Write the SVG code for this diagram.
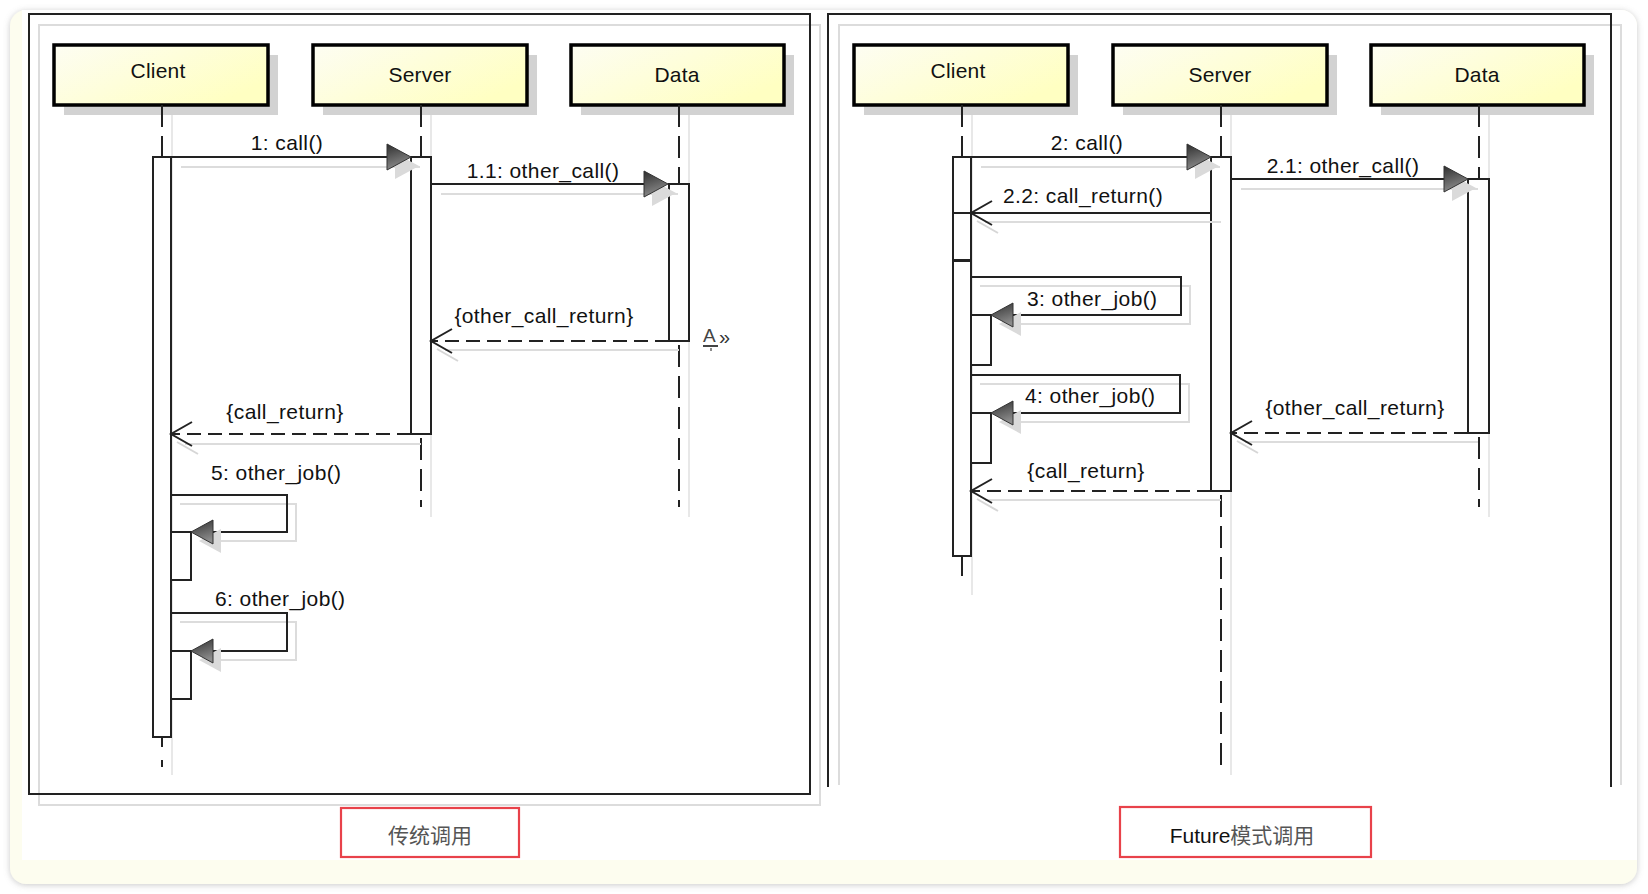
<svg xmlns="http://www.w3.org/2000/svg" xmlns:xlink="http://www.w3.org/1999/xlink" width="1648" height="894" viewBox="0 0 1648 894">
<style>
.hdr{fill:url(#hg);stroke:#000;stroke-width:3.5}
.hsh{fill:#d2d2d2}
.ll{stroke:#222;stroke-width:2;stroke-dasharray:22 9;fill:none}
.lls{stroke:#e0e0e0;stroke-width:1.5;fill:none}
.act{fill:#fff;stroke:#222;stroke-width:2}
.msg{stroke:#222;stroke-width:2;fill:none}
.ret{stroke:#222;stroke-width:2;stroke-dasharray:14 7;fill:none}
.sh{stroke:#dcdcdc;stroke-width:2;fill:none}
.ah{fill:url(#ag);stroke:#333;stroke-width:1}
.ash{fill:#dadada}
.oa{stroke:#222;stroke-width:2;fill:none}
.osh{stroke:#d6d6d6;stroke-width:2;fill:none}
.frm{stroke:#222;stroke-width:2;fill:none}
.frs{stroke:#dcdcdc;stroke-width:2;fill:none}
text{font-family:"Liberation Sans",Arial,sans-serif;font-size:21px;letter-spacing:0.4px;fill:#111}
.hl{text-anchor:middle;font-size:21px;letter-spacing:0.2px}
.ml{text-anchor:middle}
.cap{fill:#fff;stroke:#e8424a;stroke-width:2.2}
.ct{font-family:"Liberation Sans","Noto Sans CJK SC",sans-serif;font-size:21px;letter-spacing:0;fill:#555;text-anchor:middle}
</style>
<defs>
<linearGradient id="hg" x1="0" y1="0" x2="1" y2="0.6">
<stop offset="0" stop-color="#fdfdf3"/>
<stop offset="1" stop-color="#ffffc2"/>
</linearGradient>
<linearGradient id="ag" x1="0" y1="0" x2="0.3" y2="1">
<stop offset="0" stop-color="#2e2e2e"/>
<stop offset="1" stop-color="#8c8c8c"/>
</linearGradient>
<filter id="ps" x="-2%" y="-2%" width="104%" height="104%">
<feDropShadow dx="0" dy="1" stdDeviation="3" flood-color="#888" flood-opacity="0.45"/>
</filter>
<g id="far"><polygon class="ash" points="-16,-4 8,9 -16,22"/><polygon class="ah" points="-24,-13 0,0 -24,13"/></g>
<g id="fal"><polygon class="ash" points="8,9 30,-3 30,21"/><polygon class="ah" points="0,0 22,-12 22,12"/></g>
<g id="oal"><polyline class="osh" points="27,20 6,8"/><polyline class="oa" points="21,-12 0,0 21,12"/></g>
</defs>

<rect width="1648" height="894" fill="#fff"/>
<rect x="10" y="10" width="1627" height="874" rx="16" fill="#fdfdef" filter="url(#ps)"/>
<path d="M22,10 H1621 A16,16 0 0 1 1637,26 V860 H22 Z" fill="#fff"/>

<g id="frame-left">
<rect class="frs" x="39" y="25" width="781" height="780"/>
<rect class="frm" x="29" y="14" width="781" height="780"/>
</g>
<g id="frame-right">
<polyline class="frs" points="839,785 839,25 1621,25 1621,785"/>
<polyline class="frm" points="828,787 828,14 1611,14 1611,787"/>
</g>

<!-- Left diagram lifelines -->
<g id="L-client">
<rect class="hsh" x="64" y="55" width="214" height="60"/>
<rect class="hdr" x="54" y="45" width="214" height="60"/>
<text class="hl" x="158" y="78">Client</text>
<line class="lls" x1="172" y1="115" x2="172" y2="775"/>
<line class="ll" x1="162" y1="105" x2="162" y2="157"/>
<line class="ll" x1="162" y1="737" x2="162" y2="767" style="stroke-dasharray:10 13"/>
<rect class="act" x="153" y="157" width="18" height="580"/>
<rect class="act" x="171" y="532" width="20" height="48"/>
<rect class="act" x="171" y="651" width="20" height="48"/>
</g>
<g id="L-server">
<rect class="hsh" x="323" y="55" width="214" height="60"/>
<rect class="hdr" x="313" y="45" width="214" height="60"/>
<text class="hl" x="420" y="82">Server</text>
<line class="lls" x1="431" y1="115" x2="431" y2="517"/>
<line class="ll" x1="421" y1="105" x2="421" y2="157"/>
<line class="ll" x1="421" y1="438" x2="421" y2="507"/>
<rect class="act" x="411" y="157" width="20" height="277"/>
</g>
<g id="L-data">
<rect class="hsh" x="581" y="55" width="213" height="60"/>
<rect class="hdr" x="571" y="45" width="213" height="60"/>
<text class="hl" x="677" y="82">Data</text>
<line class="lls" x1="689" y1="115" x2="689" y2="517"/>
<line class="ll" x1="679" y1="105" x2="679" y2="184"/>
<line class="ll" x1="679" y1="345" x2="679" y2="507"/>
<rect class="act" x="669" y="184" width="20" height="157"/>
</g>

<!-- Right diagram lifelines -->
<g id="R-client">
<rect class="hsh" x="864" y="55" width="214" height="60"/>
<rect class="hdr" x="854" y="45" width="214" height="60"/>
<text class="hl" x="958" y="78">Client</text>
<line class="lls" x1="972" y1="115" x2="972" y2="595"/>
<line class="ll" x1="962" y1="105" x2="962" y2="157"/>
<line class="msg" x1="962" y1="556" x2="962" y2="576"/>
<rect class="act" x="953" y="157" width="18" height="103"/>
<rect class="act" x="953" y="261" width="18" height="295"/>
<line class="msg" x1="953" y1="213" x2="971" y2="213"/>
<rect class="act" x="971" y="315" width="20" height="50"/>
<rect class="act" x="971" y="413" width="20" height="50"/>
</g>
<g id="R-server">
<rect class="hsh" x="1123" y="55" width="214" height="60"/>
<rect class="hdr" x="1113" y="45" width="214" height="60"/>
<text class="hl" x="1220" y="82">Server</text>
<line class="lls" x1="1231" y1="115" x2="1231" y2="775"/>
<line class="ll" x1="1221" y1="105" x2="1221" y2="157"/>
<line class="ll" x1="1221" y1="495" x2="1221" y2="767"/>
<rect class="act" x="1211" y="157" width="20" height="334"/>
</g>
<g id="R-data">
<rect class="hsh" x="1381" y="55" width="213" height="60"/>
<rect class="hdr" x="1371" y="45" width="213" height="60"/>
<text class="hl" x="1477" y="82">Data</text>
<line class="lls" x1="1489" y1="115" x2="1489" y2="517"/>
<line class="ll" x1="1479" y1="105" x2="1479" y2="179"/>
<line class="ll" x1="1479" y1="437" x2="1479" y2="507"/>
<rect class="act" x="1468" y="179" width="21" height="254"/>
</g>

<g id="connectors">
<!-- left: 1: call() -->
<line class="sh" x1="181" y1="167" x2="420" y2="167"/>
<line class="msg" x1="171" y1="157" x2="392" y2="157"/>
<use xlink:href="#far" x="411" y="157"/>
<text class="ml" x="287" y="150">1: call()</text>
<!-- 1.1 -->
<line class="sh" x1="441" y1="194" x2="678" y2="194"/>
<line class="msg" x1="431" y1="184" x2="650" y2="184"/>
<use xlink:href="#far" x="668" y="184"/>
<text class="ml" x="543" y="178">1.1: other_call()</text>
<!-- other_call_return -->
<line class="sh" x1="445" y1="350" x2="679" y2="350"/>
<line class="ret" x1="669" y1="341" x2="431" y2="341"/>
<use xlink:href="#oal" x="431" y="341"/>
<text class="ml" x="544" y="323">{other_call_return}</text>
<!-- call_return -->
<line class="sh" x1="185" y1="444" x2="421" y2="444"/>
<line class="ret" x1="411" y1="434" x2="171" y2="434"/>
<use xlink:href="#oal" x="171" y="434"/>
<text class="ml" x="285" y="419">{call_return}</text>
<!-- 5 -->
<polyline class="sh" points="180,504 296,504 296,541 214,541"/>
<polyline class="msg" points="171,495 287,495 287,532 205,532"/>
<use xlink:href="#fal" x="191" y="532"/>
<text x="211" y="480">5: other_job()</text>
<!-- 6 -->
<polyline class="sh" points="180,622 296,622 296,660 214,660"/>
<polyline class="msg" points="171,613 287,613 287,651 205,651"/>
<use xlink:href="#fal" x="191" y="651"/>
<text x="215" y="606">6: other_job()</text>
<!-- A» icon -->
<text x="703" y="342" style="font-size:19px;letter-spacing:0;fill:#444">A</text>
<line x1="703" y1="346" x2="718" y2="346" stroke="#444" stroke-width="2"/>
<line x1="711" y1="348" x2="711" y2="351" stroke="#666" stroke-width="1.5"/>
<text x="719" y="344" style="font-size:20px;letter-spacing:0;fill:#333">»</text>

<!-- right: 2: call() -->
<line class="sh" x1="981" y1="167" x2="1220" y2="167"/>
<line class="msg" x1="971" y1="157" x2="1192" y2="157"/>
<use xlink:href="#far" x="1211" y="157"/>
<text class="ml" x="1087" y="150">2: call()</text>
<!-- 2.1 -->
<line class="sh" x1="1241" y1="189" x2="1478" y2="189"/>
<line class="msg" x1="1231" y1="179" x2="1450" y2="179"/>
<use xlink:href="#far" x="1468" y="179"/>
<text class="ml" x="1343" y="173">2.1: other_call()</text>
<!-- 2.2 -->
<line class="sh" x1="985" y1="222" x2="1221" y2="222"/>
<line class="msg" x1="1211" y1="213" x2="971" y2="213"/>
<use xlink:href="#oal" x="971" y="213"/>
<text class="ml" x="1083" y="203">2.2: call_return()</text>
<!-- 3 -->
<polyline class="sh" points="980,286 1190,286 1190,324 1014,324"/>
<polyline class="msg" points="971,277 1181,277 1181,315 1005,315"/>
<use xlink:href="#fal" x="991" y="315"/>
<text x="1027" y="306">3: other_job()</text>
<!-- 4 -->
<polyline class="sh" points="980,384 1189,384 1189,422 1014,422"/>
<polyline class="msg" points="971,375 1180,375 1180,413 1005,413"/>
<use xlink:href="#fal" x="991" y="413"/>
<text x="1025" y="403">4: other_job()</text>
<!-- other_call_return -->
<line class="sh" x1="1245" y1="442" x2="1478" y2="442"/>
<line class="ret" x1="1468" y1="433" x2="1231" y2="433"/>
<use xlink:href="#oal" x="1231" y="433"/>
<text class="ml" x="1355" y="415">{other_call_return}</text>
<!-- call_return -->
<line class="sh" x1="985" y1="500" x2="1221" y2="500"/>
<line class="ret" x1="1211" y1="491" x2="971" y2="491"/>
<use xlink:href="#oal" x="971" y="491"/>
<text class="ml" x="1086" y="478">{call_return}</text>
</g>

<g id="caption-left">
<rect class="cap" x="341" y="808" width="178" height="49"/>
<text class="ct" x="430" y="843">传统调用</text>
</g>
<g id="caption-right">
<rect class="cap" x="1120" y="807" width="251" height="50"/>
<text class="ct" x="1242" y="843"><tspan style="fill:#111">Future</tspan>模式调用</text>
</g>
</svg>
